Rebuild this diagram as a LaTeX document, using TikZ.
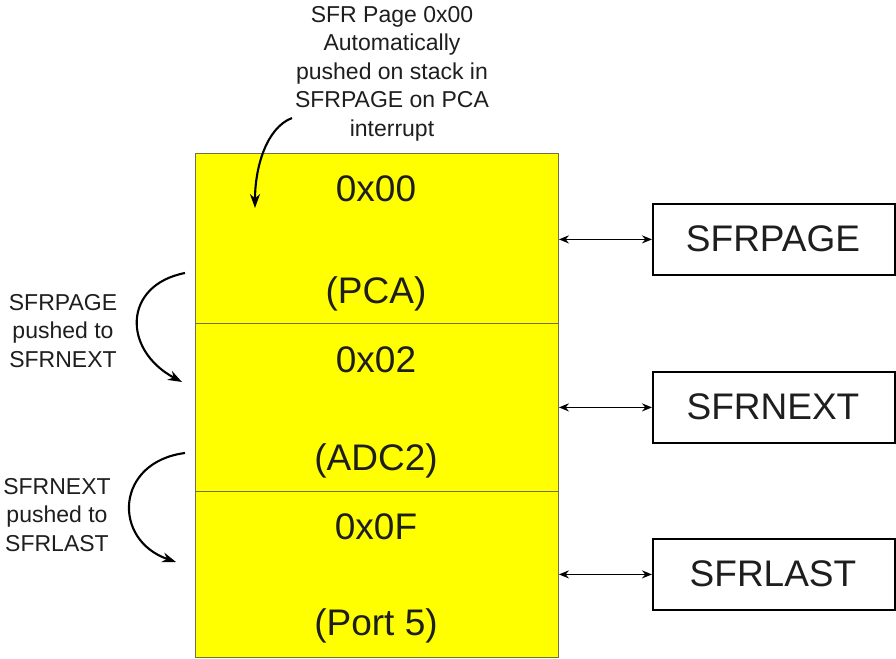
\documentclass[tikz,border=0pt]{standalone}
\usepackage{fontspec}
\setmainfont{Liberation Sans}
\usetikzlibrary{arrows.meta}
\definecolor{txt}{HTML}{1E1E1E}
\definecolor{cellline}{HTML}{707040}
\definecolor{cellfill}{RGB}{255,255,0}
\tikzset{
  cell/.style={draw=cellline, line width=0.9pt, fill=cellfill, anchor=north west, minimum width=363pt, inner sep=0pt},
  bigtxt/.style={font=\fontsize{37}{40}\selectfont, text=txt, anchor=base, inner sep=0pt},
  regbox/.style={draw=black, line width=1.8pt, minimum width=242pt, minimum height=71pt, anchor=north west, inner sep=0pt},
  smalltxt/.style={font=\fontsize{23}{28.5}\selectfont, text=txt, align=center, anchor=north, inner sep=0pt},
  link/.style={line width=1.8pt, {Stealth[length=10pt,width=8pt]}-{Stealth[length=10pt,width=8pt]}},
  curvearrow/.style={line width=2.1pt, -{Stealth[length=14pt,width=10pt]}}
}
\begin{document}
\begin{tikzpicture}[x=1pt,y=-1pt]
\useasboundingbox (0,0) rectangle (896,658);
% stack cells
\node[cell, minimum height=170pt] (c1) at (195,153) {};
\node[cell, minimum height=168pt] (c2) at (195,323) {};
\node[cell, minimum height=166pt] (c3) at (195,491) {};
\node[bigtxt] (t1a) at (376,201) {0x00};
\node[bigtxt] (t1b) at (376,303) {(PCA)};
\node[bigtxt] (t2a) at (376,372) {0x02};
\node[bigtxt] (t2b) at (376,470) {(ADC2)};
\node[bigtxt] (t3a) at (376,539) {0x0F};
\node[bigtxt] (t3b) at (376,635) {(Port 5)};
% registers
\node[regbox] (b1) at (652,203) {};
\node[regbox] (b2) at (652,371) {};
\node[regbox] (b3) at (652,538) {};
\node[bigtxt] (l1) at (773,251) {SFRPAGE};
\node[bigtxt] (l2) at (773,419) {SFRNEXT};
\node[bigtxt] (l3) at (773,586) {SFRLAST};
\draw[link] (c1.east |- b1.west) -- (b1.west);
\draw[link] (c2.east |- b2.west) -- (b2.west);
\draw[link] (c3.east |- b3.west) -- (b3.west);
% labels
\node[smalltxt] (top) at (392,6) {SFR Page 0x00\\Automatically\\pushed on stack in\\SFRPAGE on PCA\\interrupt};
\node[smalltxt] (left1) at (63,294) {SFRPAGE\\pushed to\\SFRNEXT};
\node[smalltxt] (left2) at (57,478) {SFRNEXT\\pushed to\\SFRLAST};
% curved arrows
\coordinate (ts) at (292,118);
\coordinate (te) at (255,208);
\coordinate (s1) at (185,273);
\coordinate (e1) at (182,382);
\coordinate (s2) at (185,453);
\coordinate (e2) at (176,562);
\draw[curvearrow] (ts) .. controls (266,128) and (255,168) .. (te);
\draw[curvearrow] (s1) .. controls (123,285) and (122,350) .. (e1);
\draw[curvearrow] (s2) .. controls (115,462) and (112,540) .. (e2);
\end{tikzpicture}
\end{document}
